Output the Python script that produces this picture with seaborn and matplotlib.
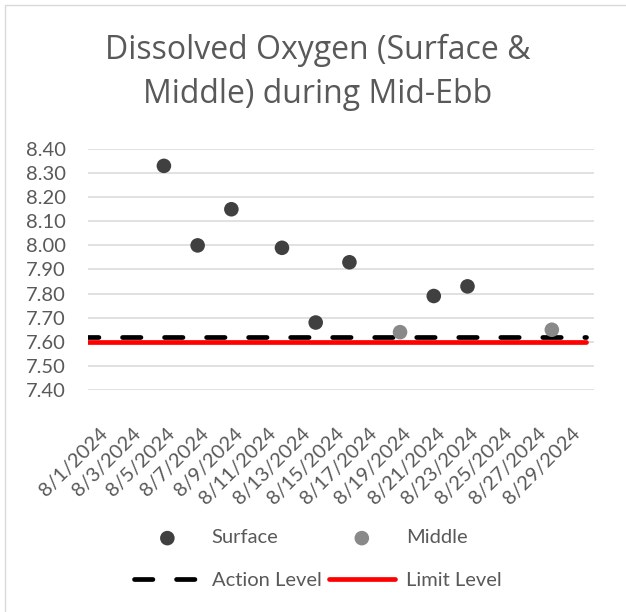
import matplotlib
matplotlib.use("Agg")
import matplotlib.pyplot as plt
from matplotlib.patches import Rectangle
import seaborn as sns
import pandas as pd

surface_dates = ["2024-08-05", "2024-08-07", "2024-08-09", "2024-08-12",
                 "2024-08-14", "2024-08-16", "2024-08-21", "2024-08-23"]
surface_do = [8.33, 8.00, 8.15, 7.99, 7.68, 7.93, 7.79, 7.83]

middle_dates = ["2024-08-19", "2024-08-28"]
middle_do = [7.64, 7.65]

level_dates = ["2024-07-31", "2024-08-30"]
action_level = [7.62, 7.62]
limit_level = [7.60, 7.60]

tick_dates = pd.date_range("2024-08-01", "2024-08-29", freq="2D")

surface = pd.DataFrame({"date": pd.to_datetime(surface_dates), "do": surface_do})
middle = pd.DataFrame({"date": pd.to_datetime(middle_dates), "do": middle_do})
levels = pd.DataFrame({"date": pd.to_datetime(level_dates),
                       "action": action_level, "limit": limit_level})

sns.set_style("white")
plt.rcParams["font.family"] = ["Lato", "DejaVu Sans"]
txt = "#595959"

fig = plt.figure(figsize=(6.26, 6.12), dpi=100)
ax = fig.add_axes([88 / 626, 1 - 390 / 612, 506 / 626, 241 / 612])

ax.yaxis.grid(True, color="#d9d9d9", lw=1.1)
ax.set_axisbelow(True)

sns.lineplot(data=levels, x="date", y="action", ax=ax, color="black", lw=3.4,
             dashes=False, label="Action Level", zorder=2)
al = ax.lines[-1]
al.set_dashes((3.9, 5.0))
al.set_dash_capstyle("round")
sns.lineplot(data=levels, x="date", y="limit", ax=ax, color="#ff0000", lw=3.4,
             label="Limit Level", zorder=2)
ax.lines[-1].set_solid_capstyle("round")

sns.scatterplot(data=surface, x="date", y="do", ax=ax, color="#404040", s=110,
                edgecolor="none", label="Surface", zorder=3)
sns.scatterplot(data=middle, x="date", y="do", ax=ax, color="#898989", s=110,
                edgecolor="none", label="Middle", zorder=3)

ax.set_xlim(pd.Timestamp("2024-07-31 12:00"), pd.Timestamp("2024-08-30 12:00"))
ax.set_ylim(7.40, 8.40)
ax.set_yticks([7.40 + 0.1 * i for i in range(11)])
ax.set_yticklabels([f"{7.40 + 0.1 * i:.2f}" for i in range(11)])
ax.set_xticks(tick_dates + pd.Timedelta(hours=12))
ax.set_xticklabels([f"{d.month}/{d.day}/{d.year}" for d in tick_dates],
                   rotation=45, ha="right", va="center", rotation_mode="anchor")
ax.tick_params(axis="both", length=0, labelsize=14.5, colors=txt)
ax.tick_params(axis="y", pad=16)
ax.tick_params(axis="x", pad=29)
ax.set_xlabel("")
ax.set_ylabel("")
for s in ax.spines.values():
    s.set_visible(False)

fig.text(318 / 626, 1 - 59 / 612, "Dissolved Oxygen (Surface &", ha="center",
         va="baseline", fontsize=23, color=txt, family=["Open Sans", "DejaVu Sans"])
fig.text(318 / 626, 1 - 103 / 612, "Middle) during Mid-Ebb", ha="center",
         va="baseline", fontsize=23, color=txt, family=["Open Sans", "DejaVu Sans"])

handles, labels = ax.get_legend_handles_labels()
order = [labels.index(n) for n in ["Surface", "Action Level", "Middle", "Limit Level"]]
ax.legend([handles[i] for i in order], [labels[i] for i in order], ncol=2,
          loc="center", bbox_to_anchor=(318 / 626, 1 - 559 / 612),
          bbox_transform=fig.transFigure, frameon=False, fontsize=14.5,
          labelcolor=txt, handlelength=3.3, handletextpad=0.55,
          columnspacing=0.35, labelspacing=1.25)

fig.patches.append(Rectangle((4.5 / 626, -0.1), 1.2, 1 - 4.5 / 612 + 0.1,
                             transform=fig.transFigure, fill=False,
                             edgecolor="#d9d9d9", lw=1))

fig.savefig("out.png", dpi=100)
